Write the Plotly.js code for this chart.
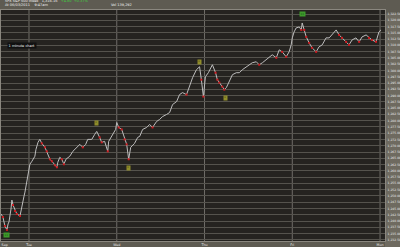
<!DOCTYPE html>
<html><head><meta charset="utf-8">
<script src="https://cdn.plot.ly/plotly-3.0.1.min.js"></script>
<style>html,body{margin:0;padding:0;background:#5e5b52;}#chart{width:400px;height:247px;}</style>
</head><body><div id="chart"></div>
<script>
// minutes since start of window (trading minutes)
const times = [-4,4,13,22,27,31,40,44,49,58,66,80,89,98,102,111,120,
124,133,146,151,155,160,168,177,191,199,213,222,235,244,248,257,266,275,284,301,315,332,346,359,372,381,399,412,421,434,443,456,470,474,479,492,505,
510,519,532,545,554,563,572,589,603,612,625,643,656,669,687,700,714,731,745,758,776,789,802,820,833,847,864,878,886,895,
904,917,935,949,957,966,979,988,997,1010,1024,1041,1055,1068,1086,1099,1112,1130,1143,1157,1174,1188,1201,1219,1232,1245,1263,1276,1285,
1290,1298,1307,1321,1330,1334,1343,1352,1365,1378,1396,1409,1423,1440,1454,1467,1485,1498,1511,1529,1542,1556,1573,1587,1600,1618,1631,1644,1662,1675,1684];
const prices = [1242.81,1241.62,1238.05,1236.46,1238.84,1239.64,1244.79,1248.36,1246.38,1244.00,1242.81,1242.02,1246.77,1249.95,1251.53,1256.69,1260.65,
1262.63,1263.82,1265.80,1268.58,1270.17,1271.36,1272.54,1270.96,1269.37,1267.79,1264.62,1263.82,1262.24,1261.44,1263.43,1265.41,1264.62,1262.63,1264.62,1265.80,1267.79,1269.37,1270.56,1269.37,1270.56,1272.54,1272.54,1274.53,1275.72,1273.34,1271.36,1271.75,1267.79,1271.75,1272.54,1274.53,1276.51,
1279.28,1277.30,1276.51,1272.54,1270.56,1264.62,1269.37,1270.96,1273.34,1273.73,1276.51,1277.30,1278.49,1277.30,1279.68,1280.47,1281.66,1282.46,1283.25,1286.42,1287.61,1290.39,1291.18,1290.39,1293.56,1297.13,1300.30,1301.49,1296.33,1289.59,
1297.52,1299.11,1302.28,1299.11,1296.33,1295.14,1293.56,1292.37,1293.16,1295.54,1298.32,1299.11,1299.11,1300.30,1301.49,1302.28,1303.07,1303.47,1302.28,1303.07,1304.26,1305.45,1306.25,1305.06,1308.23,1307.43,1305.45,1307.43,1310.21,
1312.99,1315.36,1316.95,1317.35,1316.16,1318.93,1316.16,1313.38,1311.00,1309.02,1307.43,1309.42,1310.21,1312.99,1312.99,1314.17,1316.16,1314.17,1312.99,1311.40,1310.21,1312.19,1312.99,1311.40,1313.38,1314.17,1312.99,1312.19,1311.40,1315.36,1316.16];

const tickMinutes = [12,120,510,900,1290,1680];
const tickLabels = ['Sep','Tue','Wed','Thu','Fri','Mon'];
const dayStarts = [120,510,900,1290,1680];

const sigTimes = [421,563,878,993];
const sigPrices = [1278.9,1261.1,1303.5,1289.2];
const greenTimes = [1334,22];
const greenPrices = [1322.4,1234.6];

const yTick0 = 1232.5, yStep = 2.5;

// red marks where price fell
const downT = [], downP = [];
for (let i=1;i<prices.length;i++){ if(prices[i]<prices[i-1]){downT.push(times[i]);downP.push(prices[i]);} }

const traces = [
 {type:'scatter',mode:'lines',x:times,y:prices,line:{color:'#bdbdbd',width:1},hoverinfo:'skip'},
 {type:'scatter',mode:'markers',x:downT,y:downP,marker:{color:'#cc1a1f',size:2,symbol:'square'},hoverinfo:'skip'}
];

const shapes = dayStarts.map(d=>({type:'line',xref:'x',yref:'paper',x0:d,x1:d,y0:0,y1:1,line:{color:'#6f6d68',width:1},layer:'below'}));
shapes.push({type:'rect',xref:'paper',yref:'paper',x0:1,x1:1.05,y0:-0.03,y1:0.985,fillcolor:'#6e6a60',line:{width:0},layer:'below'});

const annotations = [];
sigTimes.forEach((t,i)=>annotations.push({x:t,y:sigPrices[i],xref:'x',yref:'y',text:'9',showarrow:false,
  font:{size:2.2,color:'#3a3a10',family:'DejaVu Sans'},bgcolor:'#8f8c2a',borderpad:0.3}));
greenTimes.forEach((t,i)=>annotations.push({x:t,y:greenPrices[i],xref:'x',yref:'y',text:'13',showarrow:false,
  font:{size:2.6,color:'#1a4a1a',family:'DejaVu Sans'},bgcolor:'#3d9a2a',borderpad:0.5}));
annotations.push({xref:'paper',yref:'paper',x:0.004,y:1.041,xanchor:'left',yanchor:'middle',showarrow:false,
  text:'SPX S&P 500 Index   1,316.16   <span style="color:#3fd23f">+4.80  +0.37%</span>',font:{size:3.5,color:'#f2f2f2',family:'DejaVu Sans'}});
annotations.push({xref:'paper',yref:'paper',x:0.004,y:1.022,xanchor:'left',yanchor:'middle',showarrow:false,
  text:'At 06/03/2011    9:47am',font:{size:3.5,color:'#f2f2f2',family:'DejaVu Sans'}});
annotations.push({xref:'paper',yref:'paper',x:0.28,y:1.022,xanchor:'left',yanchor:'middle',showarrow:false,
  text:'Vol 139,292',font:{size:3.5,color:'#f2f2f2',family:'DejaVu Sans'}});
annotations.push({xref:'paper',yref:'paper',x:0.016,y:0.845,xanchor:'left',yanchor:'middle',showarrow:false,
  text:'1 minute chart',font:{size:3.5,color:'#f5f5f5',family:'DejaVu Sans'},bgcolor:'#111',borderpad:0.6});

const layout = {
 width:400,height:247,
 margin:{l:1,r:15,t:10,b:6,pad:0},
 paper_bgcolor:'#5e5b52',plot_bgcolor:'#252320',
 showlegend:false,
 xaxis:{range:[-4.4,1702],tickvals:tickMinutes,ticktext:tickLabels,showgrid:false,zeroline:false,
   ticks:'',tickfont:{size:3.3,color:'#e8e8e8',family:'DejaVu Sans'},ticklabelstandoff:0,
   showline:true,linecolor:'#8a877f',linewidth:1,mirror:true,fixedrange:true},
 yaxis:{side:'right',range:[1232.05,1324.1],tick0:yTick0,dtick:yStep,tickformat:',.2f',
   showgrid:true,gridcolor:'#55534d',gridwidth:1,zeroline:false,ticks:'',
   tickfont:{size:3.0,color:'#ececec',family:'DejaVu Sans'},ticklabelstandoff:1,
   showline:true,linecolor:'#8a877f',linewidth:1,mirror:true,fixedrange:true},
 shapes:shapes,annotations:annotations
};
Plotly.newPlot('chart',traces,layout,{staticPlot:true,displayModeBar:false});
</script></body></html>
